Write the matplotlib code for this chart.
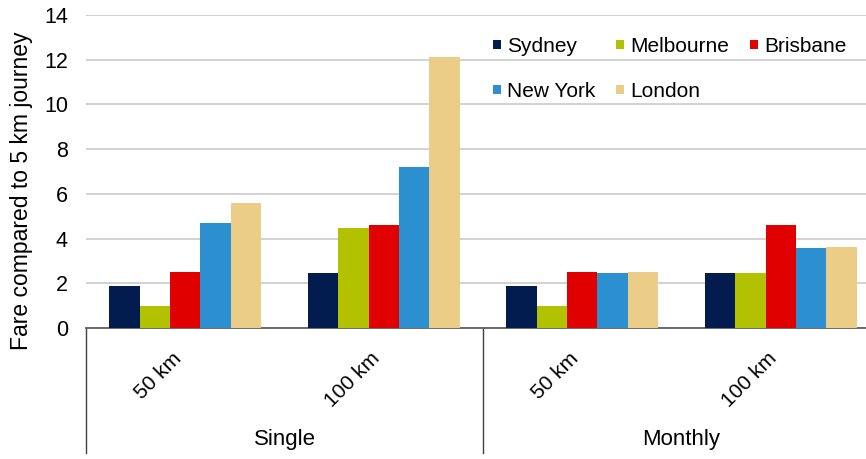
import numpy as np
import matplotlib.pyplot as plt
from matplotlib.transforms import blended_transform_factory

plt.rcParams['font.family'] = ['Liberation Sans', 'DejaVu Sans']

# data
groups = ['Single', 'Monthly']
distances = ['50 km', '100 km']
cities = ['Sydney', 'Melbourne', 'Brisbane', 'New York', 'London']
sydney = [1.9, 2.45, 1.9, 2.45]
melbourne = [0.97, 4.47, 0.97, 2.45]
brisbane = [2.5, 4.6, 2.5, 4.6]
new_york = [4.7, 7.22, 2.45, 3.57]
london = [5.6, 12.12, 2.5, 3.62]
colors = ['#021c4f', '#b3c200', '#e00000', '#2c8fd0', '#ebcd87']

series = [sydney, melbourne, brisbane, new_york, london]
tick_labels = [d for g in groups for d in distances]

fig = plt.figure(figsize=(8.66, 4.59), dpi=100)
# plot area runs a bit past the right edge of the picture, as in the original
ax = fig.add_axes([86/866, 131/459, 794/866, 313/459])

x = np.arange(len(tick_labels))
w = 0.153
bars = []
for i, (vals, c) in enumerate(zip(series, colors)):
    b = ax.bar(x + (i - 2) * w, vals, w, color=c, label=cities[i], zorder=3)
    bars.append(b)

ax.set_xlim(-0.5, len(tick_labels) - 0.5)
ax.set_ylim(0, 14)
ax.set_yticks(np.arange(0, 15, 2))
ax.grid(axis='y', color='#cfcfcf', linewidth=1.3, zorder=0)
for s in ['left', 'right', 'top']:
    ax.spines[s].set_visible(False)
ax.spines['bottom'].set_color('#606060')
ax.spines['bottom'].set_linewidth(1.3)
ax.tick_params(axis='y', length=0, labelsize=15.5, pad=13)
ax.tick_params(axis='x', length=0, labelsize=15, pad=15)
ax.set_xticks(x)
ax.set_xticklabels(tick_labels, rotation=45, ha='right')

# group labels and separators below the axis
tr = blended_transform_factory(ax.transData, ax.transAxes)
n = len(distances)
for k, g in enumerate(groups):
    mid = k * n + (n - 1) / 2
    ax.text(mid, -0.355, g, transform=tr, ha='center', va='center', fontsize=16)
for k in range(len(groups) + 1):
    ax.plot([k * n - 0.5, k * n - 0.5], [0, -0.40], transform=tr,
            color='#404040', linewidth=1, clip_on=False)

# legend in row order
order = [0, 3, 1, 4, 2]
ax.legend([bars[i] for i in order], [cities[i] for i in order], ncol=3,
          loc='upper left', bbox_to_anchor=(493/866, 1 - 37/459),
          bbox_transform=fig.transFigure, frameon=False, borderpad=0,
          borderaxespad=0, fontsize=15, handlelength=0.38, handleheight=0.3,
          handletextpad=0.3, columnspacing=1.0, labelspacing=1.25)

fig.text(22/866, 1 - 191/459, 'Fare compared to 5 km journey', rotation=90,
         ha='center', va='center', fontsize=16.5)

fig.savefig('out.png', dpi=100)
